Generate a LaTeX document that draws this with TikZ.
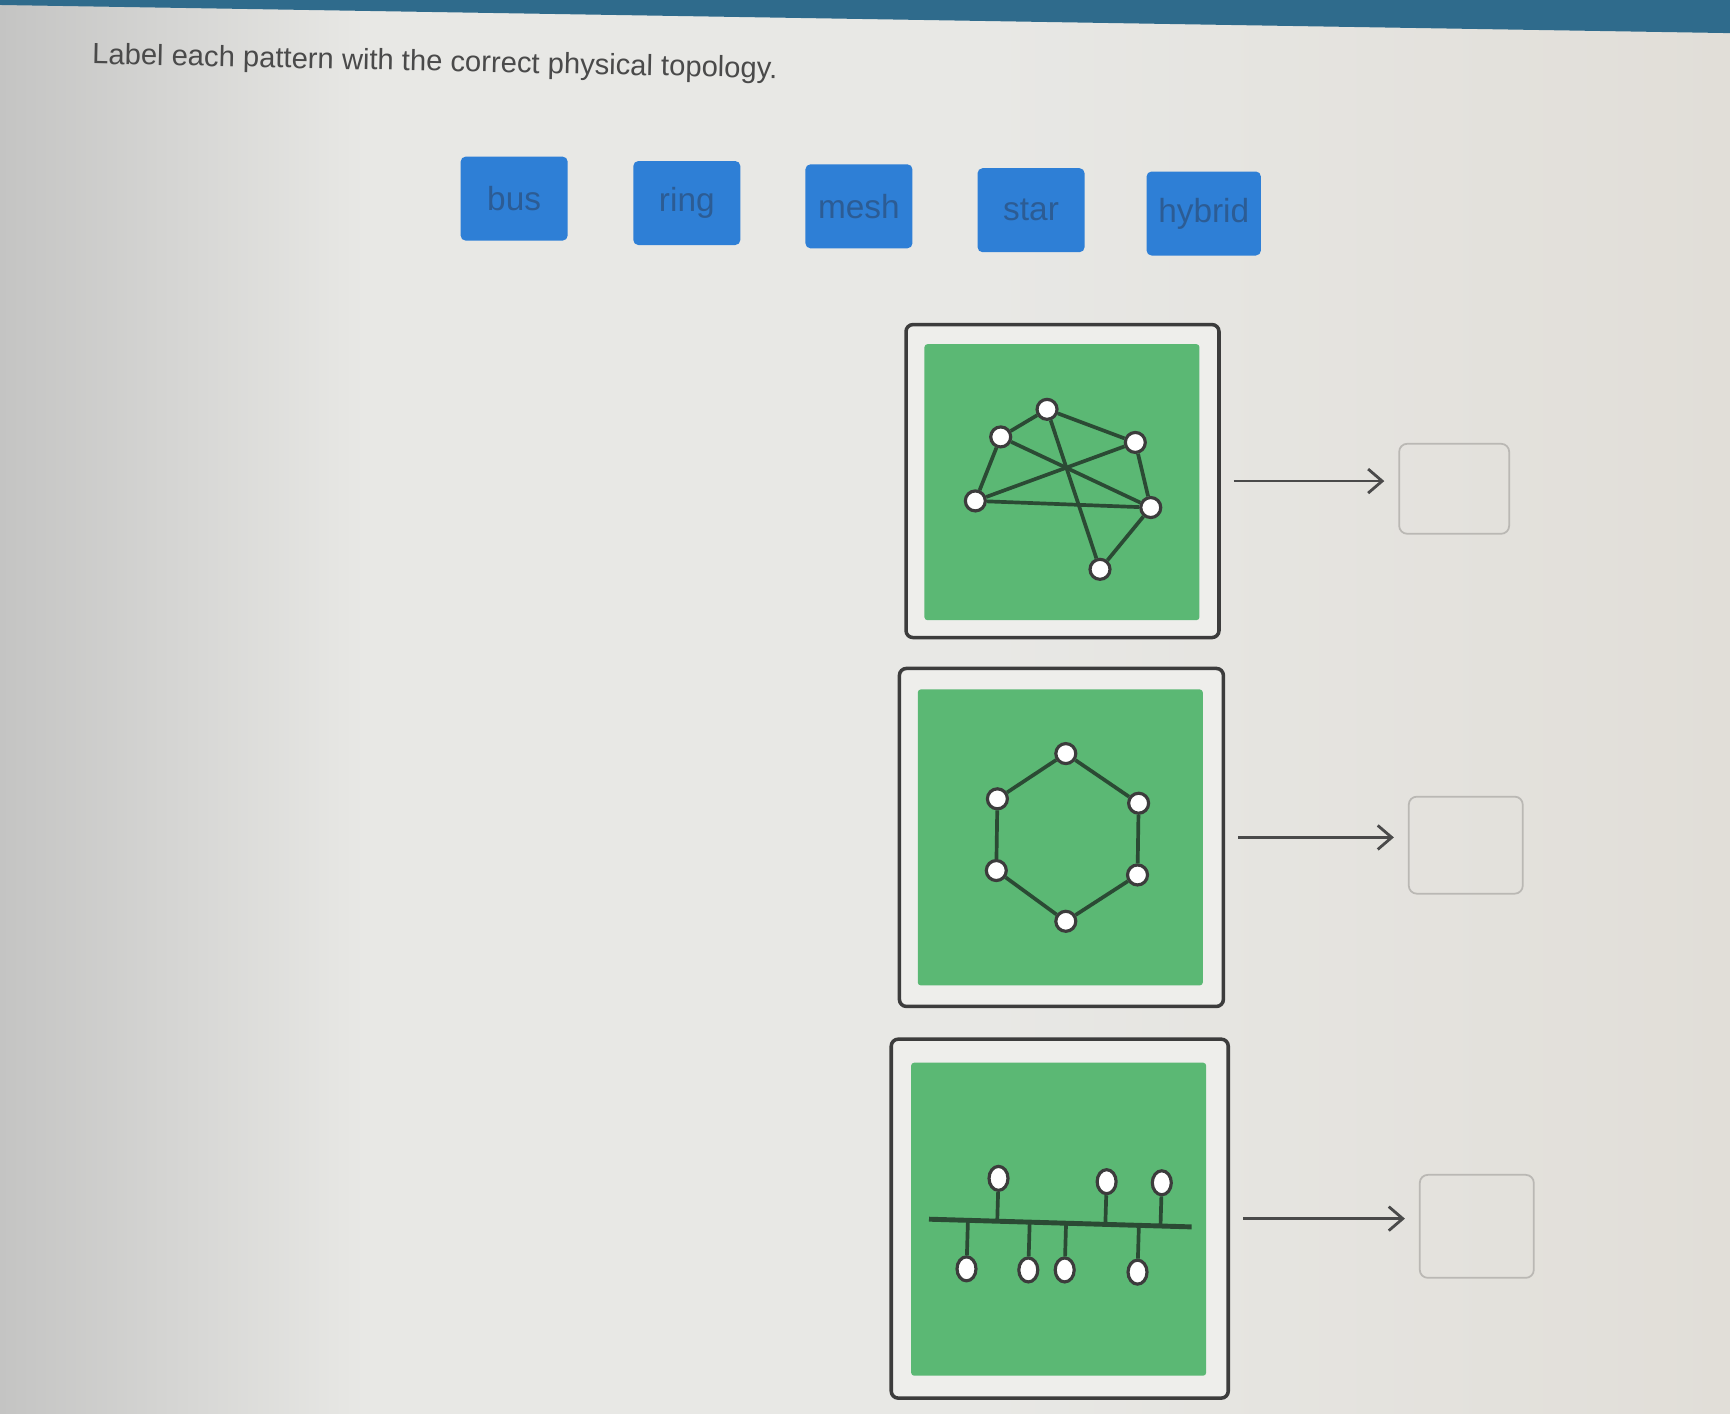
\documentclass[tikz,border=0pt]{standalone}
\usepackage{fontspec}
\setmainfont{Liberation Sans}
\usetikzlibrary{arrows.meta,calc,shapes.geometric}
\definecolor{barblue}{HTML}{2F6B8C}
\definecolor{btnblue}{HTML}{2E7FD6}
\definecolor{btntext}{HTML}{2C5C94}
\definecolor{padgreen}{HTML}{5BB874}
\definecolor{wire}{HTML}{2B4A34}
\definecolor{framegray}{HTML}{3C3C3C}
\definecolor{paper}{HTML}{EEEEEB}
\definecolor{boxline}{HTML}{BAB8B4}
\definecolor{inkgray}{HTML}{4A4A4A}
\definecolor{wallleft}{HTML}{C4C4C3}
\definecolor{wallmid}{HTML}{E8E8E5}
\definecolor{wallright}{HTML}{E1DED8}

\begin{document}
\begin{tikzpicture}[x=0.11033mm, y=-0.11033mm,
    btn/.style={fill=btnblue, rounded corners=0.5mm, minimum width=10.7mm, minimum height=8.4mm,
      text=btntext, font=\fontsize{9.5}{11}\selectfont},
    frame/.style={draw=framegray, line width=1pt, fill=paper, rounded corners=0.7mm},
    pad/.style={fill=padgreen, rounded corners=0.3mm},
    pc/.style={circle, draw=framegray, fill=white, line width=0.9pt, minimum size=2mm, inner sep=0pt},
    tap/.style={ellipse, draw=framegray, fill=white, line width=0.9pt, minimum width=1.9mm, minimum height=2.4mm, inner sep=0pt},
    link/.style={draw=wire, line width=1.05pt},
    answer/.style={draw=boxline, line width=0.5pt, rounded corners=0.8mm},
    arr/.style={draw=inkgray, line width=0.8pt, -{Straight Barb[length=1.4mm,width=2.4mm]}}]
  \useasboundingbox (0,0) rectangle (1568,1281);
  \begin{scope}
    \clip (0,0) rectangle (1568,1281);
    \fill[wallmid] (-20,-20) rectangle (1590,1300);
    \shade[left color=wallleft, right color=wallmid] (0,-20) rectangle (330,1300);
    \shade[left color=wallmid, right color=wallright] (890,-20) rectangle (1568,1300);
  \end{scope}
  \fill[barblue] (0,0) -- (1568,0) -- (1568,30) -- (0,4.5) -- cycle;

  \node[anchor=west, inner sep=0pt, text=inkgray, font=\fontsize{8.3}{10}\selectfont, rotate=-1.2] (title) at (83,51)
    {Label each pattern with the correct physical topology.};

  \node[btn] (bus)    at (466,180)    {bus};
  \node[btn] (ring)   at (622.5,184)  {ring};
  \node[btn] (mesh)   at (778.5,187)  {mesh};
  \node[btn] (star)   at (934.5,190.5) {star};
  \node[btn] (hybrid) at (1091,193.5) {hybrid};

  \node[frame, minimum width=31.3mm, minimum height=31.3mm] (f1) at (963,436) {};
  \node[pad, minimum width=27.5mm, minimum height=27.6mm] (g1) at (962.5,437) {};
  \node[frame, minimum width=32.4mm, minimum height=33.8mm] (f2) at (962,759) {};
  \node[pad, minimum width=28.5mm, minimum height=29.6mm] (g2) at (961,759) {};
  \node[frame, minimum width=33.7mm, minimum height=35.9mm] (f3) at (960.5,1104.5) {};
  \node[pad, minimum width=29.5mm, minimum height=31.3mm] (g3) at (959.5,1105) {};

  \node[pc] (m1) at (949,371) {};
  \node[pc] (m2) at (907,396) {};
  \node[pc] (m3) at (1029,401) {};
  \node[pc] (m4) at (884,454) {};
  \node[pc] (m5) at (1043,460) {};
  \node[pc] (m6) at (997,516) {};
  \foreach \a/\b in {m1/m2,m1/m3,m1/m6,m2/m4,m2/m5,m3/m4,m3/m5,m4/m5,m5/m6}
    \draw[link] (\a) -- (\b);

  \node[pc] (r1) at (966,683) {};
  \node[pc] (r2) at (1032,728) {};
  \node[pc] (r3) at (1031,793) {};
  \node[pc] (r4) at (966,835) {};
  \node[pc] (r5) at (903,789) {};
  \node[pc] (r6) at (904,724) {};
  \foreach \a/\b in {r1/r2,r2/r3,r3/r4,r4/r5,r5/r6,r6/r1}
    \draw[link] (\a) -- (\b);

  \coordinate (bl) at (842,1105);
  \coordinate (br) at (1080,1112);
  \draw[link, line width=1.4pt] (bl) -- (br);
  \node[tap] (u1) at (905,1068) {};
  \node[tap] (u2) at (1003,1071) {};
  \node[tap] (u3) at (1053,1072) {};
  \node[tap] (d1) at (876,1150) {};
  \node[tap] (d2) at (932,1151) {};
  \node[tap] (d3) at (965,1151) {};
  \node[tap] (d4) at (1031,1153) {};
  \foreach \n in {u1,u2,u3,d1,d2,d3,d4}
    \draw[link] (\n) -- ($(bl)!(\n)!(br)$);

  \node[answer, minimum width=11.0mm, minimum height=9.0mm] (a1) at (1318,443) {};
  \node[answer, minimum width=11.4mm, minimum height=9.7mm] (a2) at (1328.5,766) {};
  \node[answer, minimum width=11.4mm, minimum height=10.3mm] (a3) at (1338.5,1111.5) {};

  \draw[arr] ([xshift=1.3mm]f1.east) -- ([xshift=-1.4mm]f1.east -| a1.west);
  \draw[arr] ([xshift=1.3mm]f2.east) -- ([xshift=-1.4mm]f2.east -| a2.west);
  \draw[arr] ([xshift=1.3mm]f3.east) -- ([xshift=-1.4mm]f3.east -| a3.west);
\end{tikzpicture}
\end{document}
